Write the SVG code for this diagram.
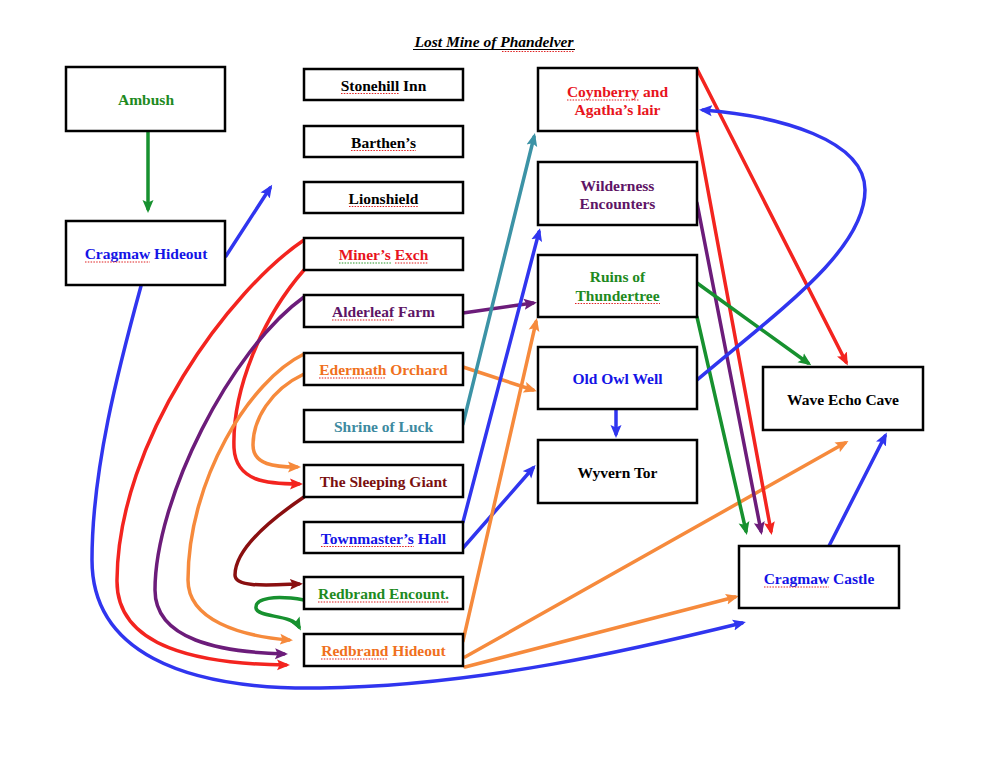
<svg xmlns="http://www.w3.org/2000/svg" width="989" height="763" viewBox="0 0 989 763">
<style>
.box{fill:#fff;stroke:#000;stroke-width:2.5}
.t{font-family:"Liberation Serif",serif;font-weight:bold;font-size:15.5px;text-anchor:middle}
.c{fill:none;stroke-width:3.5;stroke-linecap:round}
.sq{fill:none;stroke:#e02020;stroke-width:1.2;stroke-dasharray:1.5 1.3}
.sqg{fill:none;stroke:#2a9a2a;stroke-width:1.2;stroke-dasharray:1.5 1.3}
.red{stroke:#f3241f}.blue{stroke:#3035ef}.green{stroke:#17912f}.purple{stroke:#6c1c7a}.orange{stroke:#f68a3c}.teal{stroke:#3c93a6}.dred{stroke:#8a0f10}
</style>
<defs>
<marker id="aRed" markerUnits="userSpaceOnUse" markerWidth="14" markerHeight="12" viewBox="0 0 14 12" refX="9" refY="6" orient="auto"><path d="M0,0.5 L13,6 L0,11.5 L2.5,6 z" fill="#f3241f"/></marker>
<marker id="aBlue" markerUnits="userSpaceOnUse" markerWidth="14" markerHeight="12" viewBox="0 0 14 12" refX="9" refY="6" orient="auto"><path d="M0,0.5 L13,6 L0,11.5 L2.5,6 z" fill="#3035ef"/></marker>
<marker id="aGreen" markerUnits="userSpaceOnUse" markerWidth="14" markerHeight="12" viewBox="0 0 14 12" refX="9" refY="6" orient="auto"><path d="M0,0.5 L13,6 L0,11.5 L2.5,6 z" fill="#17912f"/></marker>
<marker id="aPurple" markerUnits="userSpaceOnUse" markerWidth="14" markerHeight="12" viewBox="0 0 14 12" refX="9" refY="6" orient="auto"><path d="M0,0.5 L13,6 L0,11.5 L2.5,6 z" fill="#6c1c7a"/></marker>
<marker id="aOrange" markerUnits="userSpaceOnUse" markerWidth="14" markerHeight="12" viewBox="0 0 14 12" refX="9" refY="6" orient="auto"><path d="M0,0.5 L13,6 L0,11.5 L2.5,6 z" fill="#f68a3c"/></marker>
<marker id="aTeal" markerUnits="userSpaceOnUse" markerWidth="14" markerHeight="12" viewBox="0 0 14 12" refX="9" refY="6" orient="auto"><path d="M0,0.5 L13,6 L0,11.5 L2.5,6 z" fill="#3c93a6"/></marker>
<marker id="aDred" markerUnits="userSpaceOnUse" markerWidth="14" markerHeight="12" viewBox="0 0 14 12" refX="9" refY="6" orient="auto"><path d="M0,0.5 L13,6 L0,11.5 L2.5,6 z" fill="#8a0f10"/></marker>
</defs>
<rect width="989" height="763" fill="#fff"/>
<g id="title">
<text x="494" y="47" style="font-family:'Liberation Serif',serif;font-weight:bold;font-style:italic;font-size:15.5px;text-anchor:middle;fill:#000">Lost Mine of Phandelver</text>
<line x1="413" y1="49.5" x2="575" y2="49.5" stroke="#000" stroke-width="1"/>
<path class="sq" d="M502,51.5 L574,51.5"/>
</g>
<g id="connectors">
<path class="c green" d="M148,131 L148,209" marker-end="url(#aGreen)"/>
<path class="c blue" d="M226,256 L270,188" marker-end="url(#aBlue)"/>
<path class="c blue" d="M141,286 C118,370 92,470 92,560 C92,650 180,690 320,688 C480,686 640,648 742,623" marker-end="url(#aBlue)"/>
<path class="c red" d="M304,240 C230,290 118,440 117,580 C116,648 200,664 286,665" marker-end="url(#aRed)"/>
<path class="c red" d="M304,270 C262,318 232,390 234,448 C236,482 268,484 299,484" marker-end="url(#aRed)"/>
<path class="c purple" d="M304,297 C230,350 155,500 155,590 C155,640 220,652 284,654" marker-end="url(#aPurple)"/>
<path class="c purple" d="M463,313 L533,303" marker-end="url(#aPurple)"/>
<path class="c orange" d="M304,354 C250,380 188,480 188,580 C188,620 240,636 289,640" marker-end="url(#aOrange)"/>
<path class="c orange" d="M304,374 C270,390 253,420 253,445 C253,465 275,467 297,467" marker-end="url(#aOrange)"/>
<path class="c orange" d="M463,367 L533,390" marker-end="url(#aOrange)"/>
<path class="c teal" d="M463,424 L534,137" marker-end="url(#aTeal)"/>
<path class="c dred" d="M304,497 C270,520 235,550 235,575 C235,588 270,585 299,584" marker-end="url(#aDred)"/>
<path class="c green" d="M304,600 C275,595 255,598 256,608 C257,618 292,614 299,627" marker-end="url(#aGreen)"/>
<path class="c blue" d="M463,522 L539,232" marker-end="url(#aBlue)"/>
<path class="c blue" d="M463,548 L533,468" marker-end="url(#aBlue)"/>
<path class="c orange" d="M463,641 L536,322" marker-end="url(#aOrange)"/>
<path class="c orange" d="M465,657 L845,443" marker-end="url(#aOrange)"/>
<path class="c orange" d="M465,667 L735,597" marker-end="url(#aOrange)"/>
<path class="c red" d="M697,69 L846,362" marker-end="url(#aRed)"/>
<path class="c red" d="M697,131 L771,531" marker-end="url(#aRed)"/>
<path class="c purple" d="M697,203 L761,531" marker-end="url(#aPurple)"/>
<path class="c green" d="M697,283 L808,363" marker-end="url(#aGreen)"/>
<path class="c green" d="M697,317 L746,531" marker-end="url(#aGreen)"/>
<path class="c blue" d="M697,380 C780,310 865,250 865,190 C865,140 780,116 703,110" marker-end="url(#aBlue)"/>
<path class="c blue" d="M616,409 L616,434" marker-end="url(#aBlue)"/>
<path class="c blue" d="M829,546 L885,436" marker-end="url(#aBlue)"/>
</g>
<g id="ambush"><rect class="box" x="66" y="67" width="159" height="64"/><text class="t" x="146" y="105" fill="#1e8a1e">Ambush</text></g>
<g id="cragmaw-hideout"><rect class="box" x="66" y="221" width="159" height="64"/><text class="t" x="146" y="259" fill="#1414e6">Cragmaw Hideout</text><path class="sq" d="M85,262 L150,262"/></g>
<g id="stonehill"><rect class="box" x="304" y="69" width="159" height="31"/><text class="t" x="383.5" y="90.5" fill="#000">Stonehill Inn</text><path class="sq" d="M341,93.5 L399,93.5"/></g>
<g id="barthens"><rect class="box" x="304" y="126" width="159" height="31"/><text class="t" x="383.5" y="147.5" fill="#000">Barthen’s</text><path class="sq" d="M351,150.5 L416,150.5"/></g>
<g id="lionshield"><rect class="box" x="304" y="182" width="159" height="31"/><text class="t" x="383.5" y="203.5" fill="#000">Lionshield</text><path class="sq" d="M349,206.5 L418,206.5"/></g>
<g id="miners"><rect class="box" x="304" y="238" width="159" height="32"/><text class="t" x="383.5" y="260" fill="#e8141c">Miner’s Exch</text><path class="sqg" d="M339,263 L391,263"/><path class="sq" d="M395,263 L428,263"/></g>
<g id="alderleaf"><rect class="box" x="304" y="295" width="159" height="32"/><text class="t" x="383.5" y="317" fill="#5e1566">Alderleaf Farm</text><path class="sq" d="M332,320 L394,320"/></g>
<g id="edermath"><rect class="box" x="304" y="353" width="159" height="32"/><text class="t" x="383.5" y="375" fill="#f07020">Edermath Orchard</text><path class="sq" d="M319,378 L386,378"/></g>
<g id="shrine"><rect class="box" x="304" y="410" width="159" height="32"/><text class="t" x="383.5" y="432" fill="#3d8aa0">Shrine of Luck</text></g>
<g id="sleeping-giant"><rect class="box" x="304" y="465" width="159" height="32"/><text class="t" x="383.5" y="487" fill="#7a0f0f">The Sleeping Giant</text></g>
<g id="townmaster"><rect class="box" x="304" y="522" width="159" height="31"/><text class="t" x="383.5" y="543.5" fill="#1414e6">Townmaster’s Hall</text><path class="sq" d="M321,546.5 L414,546.5"/></g>
<g id="redbrand-encount"><rect class="box" x="304" y="577" width="159" height="32"/><text class="t" x="383.5" y="599" fill="#1e8a1e">Redbrand Encount.</text><path class="sq" d="M318,602 L449,602"/></g>
<g id="redbrand-hideout"><rect class="box" x="304" y="634" width="159" height="32"/><text class="t" x="383.5" y="656" fill="#f07020">Redbrand Hideout</text><path class="sq" d="M321,659 L388,659"/></g>
<g id="coynberry"><rect class="box" x="538" y="68" width="159" height="63"/><text class="t" x="617.5" y="97" fill="#e8141c">Coynberry and</text><text class="t" x="617.5" y="115" fill="#e8141c">Agatha’s lair</text><path class="sq" d="M567,100 L639,100"/></g>
<g id="wilderness"><rect class="box" x="538" y="162" width="159" height="63"/><text class="t" x="617.5" y="191" fill="#5e1566">Wilderness</text><text class="t" x="617.5" y="209" fill="#5e1566">Encounters</text></g>
<g id="ruins"><rect class="box" x="538" y="255" width="159" height="62"/><text class="t" x="617.5" y="282" fill="#1e8a1e">Ruins of</text><text class="t" x="617.5" y="300.5" fill="#1e8a1e">Thundertree</text><path class="sq" d="M575,303.5 L660,303.5"/></g>
<g id="old-owl-well"><rect class="box" x="538" y="347" width="159" height="62"/><text class="t" x="617.5" y="384" fill="#1414e6">Old Owl Well</text></g>
<g id="wyvern-tor"><rect class="box" x="538" y="440" width="159" height="63"/><text class="t" x="617.5" y="478" fill="#000">Wyvern Tor</text></g>
<g id="wave-echo-cave"><rect class="box" x="763" y="367" width="160" height="63"/><text class="t" x="843" y="405" fill="#000">Wave Echo Cave</text></g>
<g id="cragmaw-castle"><rect class="box" x="739" y="546" width="160" height="62"/><text class="t" x="819" y="584" fill="#1414e6">Cragmaw Castle</text><path class="sq" d="M764,587 L829,587"/></g>
</svg>
